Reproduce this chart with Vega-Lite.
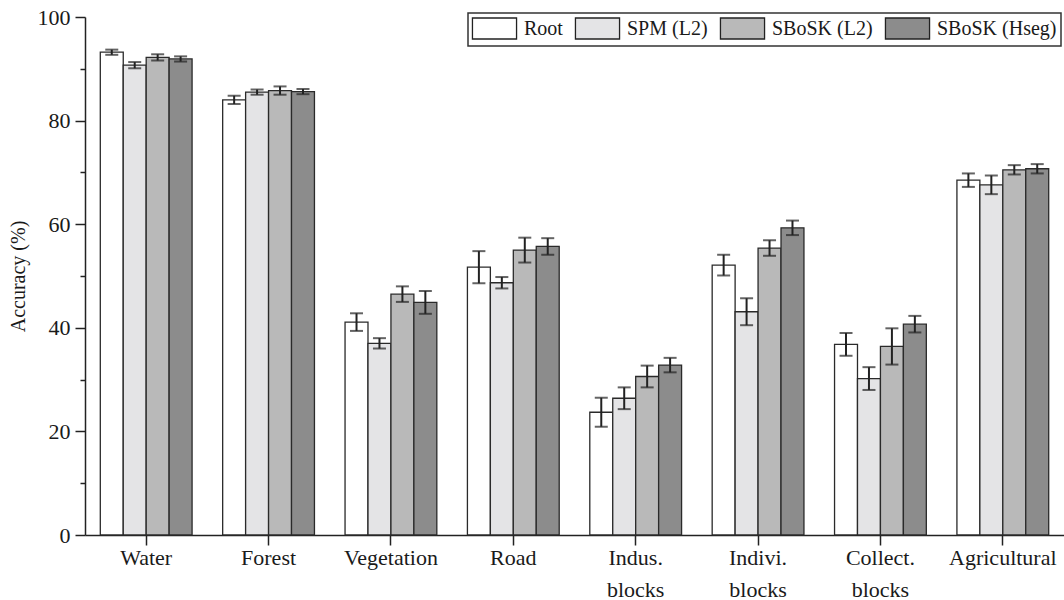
{
  "$schema": "https://vega.github.io/schema/vega-lite/v6.json",
  "autosize": {"type": "none"},
  "padding": {"left": 85, "top": 17, "right": 0, "bottom": 65},
  "width": 979,
  "height": 518,
  "background": "white",
  "config": {
    "view": {"stroke": null},
    "font": "Liberation Serif",
    "legend": {"strokeWidth": 1.5}
  },
  "data": {
    "values": [
      {"cat": "Water", "method": "Root", "value": 93.2, "lo": 92.7, "hi": 93.7},
      {"cat": "Water", "method": "SPM (L2)", "value": 90.7, "lo": 90.1, "hi": 91.3},
      {"cat": "Water", "method": "SBoSK (L2)", "value": 92.2, "lo": 91.6, "hi": 92.8},
      {"cat": "Water", "method": "SBoSK (Hseg)", "value": 91.9, "lo": 91.4, "hi": 92.4},
      {"cat": "Forest", "method": "Root", "value": 84.0, "lo": 83.2, "hi": 84.8},
      {"cat": "Forest", "method": "SPM (L2)", "value": 85.5, "lo": 85.0, "hi": 86.0},
      {"cat": "Forest", "method": "SBoSK (L2)", "value": 85.8, "lo": 85.0, "hi": 86.6},
      {"cat": "Forest", "method": "SBoSK (Hseg)", "value": 85.6, "lo": 85.1, "hi": 86.1},
      {"cat": "Vegetation", "method": "Root", "value": 41.1, "lo": 39.4, "hi": 42.8},
      {"cat": "Vegetation", "method": "SPM (L2)", "value": 37.0, "lo": 36.0, "hi": 38.0},
      {"cat": "Vegetation", "method": "SBoSK (L2)", "value": 46.5, "lo": 45.0, "hi": 48.0},
      {"cat": "Vegetation", "method": "SBoSK (Hseg)", "value": 44.9, "lo": 42.7, "hi": 47.1},
      {"cat": "Road", "method": "Root", "value": 51.7, "lo": 48.6, "hi": 54.8},
      {"cat": "Road", "method": "SPM (L2)", "value": 48.7, "lo": 47.6, "hi": 49.8},
      {"cat": "Road", "method": "SBoSK (L2)", "value": 55.0, "lo": 52.6, "hi": 57.4},
      {"cat": "Road", "method": "SBoSK (Hseg)", "value": 55.7, "lo": 54.1, "hi": 57.3},
      {"cat": "Indus. blocks", "method": "Root", "value": 23.7, "lo": 20.9, "hi": 26.5},
      {"cat": "Indus. blocks", "method": "SPM (L2)", "value": 26.4, "lo": 24.3, "hi": 28.5},
      {"cat": "Indus. blocks", "method": "SBoSK (L2)", "value": 30.6, "lo": 28.5, "hi": 32.7},
      {"cat": "Indus. blocks", "method": "SBoSK (Hseg)", "value": 32.8, "lo": 31.4, "hi": 34.2},
      {"cat": "Indivi. blocks", "method": "Root", "value": 52.1, "lo": 50.1, "hi": 54.1},
      {"cat": "Indivi. blocks", "method": "SPM (L2)", "value": 43.1, "lo": 40.5, "hi": 45.7},
      {"cat": "Indivi. blocks", "method": "SBoSK (L2)", "value": 55.4, "lo": 53.9, "hi": 56.9},
      {"cat": "Indivi. blocks", "method": "SBoSK (Hseg)", "value": 59.3, "lo": 57.9, "hi": 60.7},
      {"cat": "Collect. blocks", "method": "Root", "value": 36.8, "lo": 34.6, "hi": 39.0},
      {"cat": "Collect. blocks", "method": "SPM (L2)", "value": 30.2, "lo": 28.0, "hi": 32.4},
      {"cat": "Collect. blocks", "method": "SBoSK (L2)", "value": 36.4, "lo": 32.9, "hi": 39.9},
      {"cat": "Collect. blocks", "method": "SBoSK (Hseg)", "value": 40.7, "lo": 39.1, "hi": 42.3},
      {"cat": "Agricultural", "method": "Root", "value": 68.5, "lo": 67.2, "hi": 69.8},
      {"cat": "Agricultural", "method": "SPM (L2)", "value": 67.6, "lo": 65.8, "hi": 69.4},
      {"cat": "Agricultural", "method": "SBoSK (L2)", "value": 70.5, "lo": 69.6, "hi": 71.4},
      {"cat": "Agricultural", "method": "SBoSK (Hseg)", "value": 70.7, "lo": 69.8, "hi": 71.6}
    ]
  },
  "encoding": {
    "x": {
      "field": "cat", "type": "nominal", "sort": null,
      "scale": {"paddingInner": 0.25, "paddingOuter": 0.125},
      "axis": {
        "title": null, "labelAngle": 0,
        "labelFontSize": 22, "labelColor": "#1a1a1a",
        "labelExpr": "indexof(datum.label, ' ') > 0 ? split(datum.label, ' ') : datum.label",
        "labelLineHeight": 32, "labelPadding": 2,
        "domainColor": "#222", "domainWidth": 1.5,
        "tickColor": "#222", "tickWidth": 1.5, "tickSize": 10
      }
    },
    "xOffset": {
      "field": "method", "type": "nominal", "sort": ["Root", "SPM (L2)", "SBoSK (L2)", "SBoSK (Hseg)"],
      "scale": {"paddingInner": 0, "paddingOuter": 0}
    }
  },
  "layer": [
    {
      "mark": {"type": "bar", "stroke": "#2a2a2a"},
      "encoding": {
        "y": {
          "field": "value", "type": "quantitative",
          "scale": {"domain": [0, 100], "nice": false},
          "axis": {
            "title": "Accuracy (%)", "titleFontSize": 20, "titleFontWeight": "normal", "titleColor": "#1a1a1a", "titlePadding": 9,
            "values": [0, 10, 20, 30, 40, 50, 60, 70, 80, 90, 100],
            "labelExpr": "datum.value % 20 === 0 ? datum.label : ''",
            "labelFontSize": 22, "labelColor": "#1a1a1a", "labelPadding": 5,
            "grid": false,
            "domainColor": "#222", "domainWidth": 1.5,
            "tickColor": "#222", "tickWidth": 1.5,
            "tickSize": {"condition": {"test": "datum.value % 20 === 0", "value": 10}, "value": 5}
          }
        },
        "color": {
          "field": "method", "type": "nominal",
          "sort": ["Root", "SPM (L2)", "SBoSK (L2)", "SBoSK (Hseg)"],
          "scale": {
            "domain": ["Root", "SPM (L2)", "SBoSK (L2)", "SBoSK (Hseg)"],
            "range": ["#ffffff", "#e4e4e6", "#b9b9b9", "#8c8c8c"]
          },
          "legend": {
            "title": null, "orient": "none", "legendX": 383, "legendY": -4,
            "direction": "horizontal", "columns": 4, "gridAlign": "none",
            "strokeColor": "#333", "padding": 4,
            "symbolType": "M-2.1,-1H2.1V1H-2.1Z", "symbolSize": 441,
            "symbolStrokeColor": "#222", "symbolStrokeWidth": 1.5,
            "symbolOffset": 11, "labelOffset": 18,
            "columnPadding": 9,
            "labelFontSize": 20, "labelColor": "#1a1a1a"
          }
        },
        "strokeWidth": {
          "field": "method", "type": "nominal",
          "scale": {"domain": ["Root", "SPM (L2)", "SBoSK (L2)", "SBoSK (Hseg)"], "range": [1.3, 1.3, 2, 2]},
          "legend": null
        }
      }
    },
    {
      "mark": {"type": "rule", "color": "#222", "strokeWidth": 2},
      "encoding": {
        "y": {"field": "lo", "type": "quantitative"},
        "y2": {"field": "hi"}
      }
    },
    {
      "mark": {"type": "tick", "color": "#222", "thickness": 2, "size": 13, "orient": "horizontal"},
      "encoding": {"y": {"field": "lo", "type": "quantitative"}}
    },
    {
      "mark": {"type": "tick", "color": "#222", "thickness": 2, "size": 13, "orient": "horizontal"},
      "encoding": {"y": {"field": "hi", "type": "quantitative"}}
    }
  ]
}
